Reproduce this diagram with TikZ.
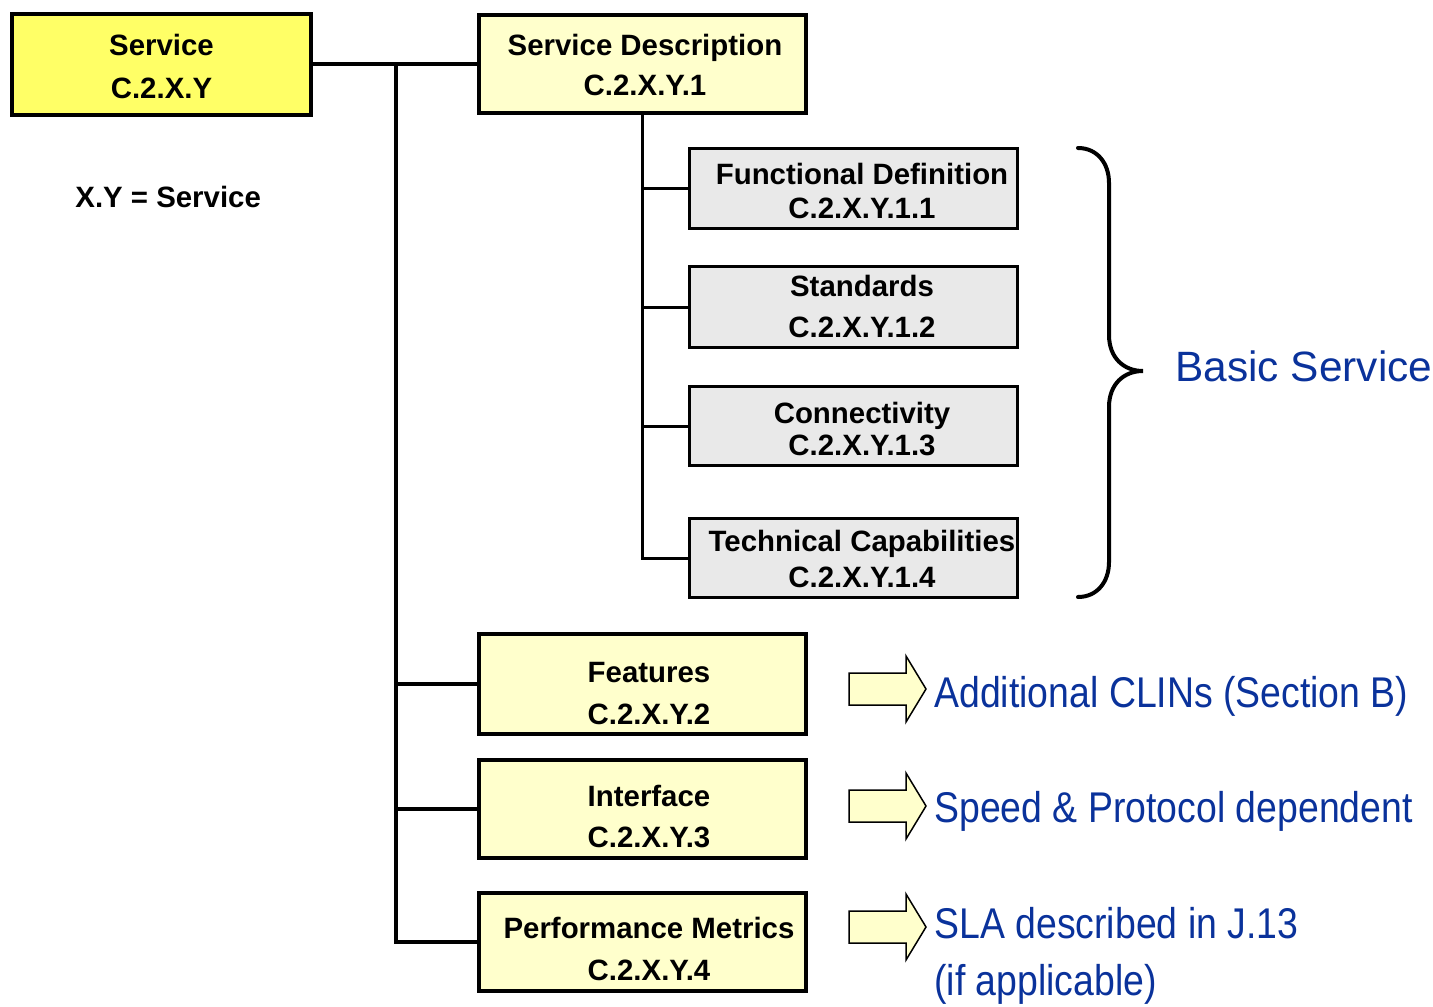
\documentclass[tikz,border=0pt]{standalone}
\usepackage{fontspec}
\setmainfont{Liberation Sans}
\newfontfamily\narrowblue[FakeStretch=0.87]{Liberation Sans}
\newlength\pxu \setlength\pxu{0.5pt}
\definecolor{brightyellow}{RGB}{255,255,102}
\definecolor{paleyellow}{RGB}{255,255,204}
\definecolor{lightgraybox}{RGB}{233,233,233}
\definecolor{textblue}{RGB}{10,50,155}
% #1 horizontal shift (px), #2 line 1, #3 line 2, #4 extra line gap, #5 top strut height
\newcommand\bxt[5]{\hspace*{#1\pxu}\begin{tabular}{@{}c@{}}\rule{0pt}{#5}#2\\[#4]#3\end{tabular}}
\tikzset{
  boxfont/.style={font=\fontsize{14.7pt}{17pt}\selectfont\bfseries},
  ybox/.style={draw, line width=4\pxu, fill=paleyellow, minimum width=327\pxu, minimum height=98\pxu, inner sep=0pt, boxfont},
  svcbox/.style={ybox, fill=brightyellow, minimum width=299\pxu, minimum height=101\pxu},
  gbox/.style={draw, line width=2.7\pxu, fill=lightgraybox, minimum width=328\pxu, minimum height=78\pxu, inner sep=0pt, boxfont},
  mainline/.style={line width=4\pxu},
  subline/.style={line width=3\pxu},
  bracest/.style={line width=4\pxu, line cap=round},
  arrowst/.style={draw, line width=1.5\pxu, fill=paleyellow, line join=miter},
  bluetext/.style={text=textblue, inner sep=0pt, anchor=base west},
  bignarrow/.style={bluetext, font=\narrowblue\fontsize{21.5pt}{26pt}\selectfont},
}
\newcommand\blkarrow[1]{%
  \draw[arrowst] (849,#1-16) -- (906,#1-16) -- (906,#1-33) -- (926,#1) -- (906,#1+33) -- (906,#1+16) -- (849,#1+16) -- cycle;}
\begin{document}
\begin{tikzpicture}[x=0.5pt, y=-0.5pt]
\useasboundingbox (0,0) rectangle (1433,1006);

% main boxes
\node[svcbox] (svc) at (161.5,64.5) {\bxt{0}{Service}{C.2.X.Y}{4pt}{17.6pt}};
\node[ybox] (sd) at (642.5,64) {\bxt{5}{Service Description}{C.2.X.Y.1}{3pt}{17.1pt}};
\node[ybox] (feat) at (642.5,684) {\bxt{13}{Features}{C.2.X.Y.2}{4pt}{24.1pt}};
\node[ybox] (intf) at (642.5,808.5) {\bxt{13}{Interface}{C.2.X.Y.3}{3.5pt}{23.1pt}};
\node[ybox] (perf) at (642.5,941.5) {\bxt{13}{Performance Metrics}{C.2.X.Y.4}{4pt}{22.6pt}};

% sub boxes
\node[gbox] (fd) at (853.5,188.5) {\bxt{17}{Functional Definition}{C.2.X.Y.1.1}{0pt}{17.6pt}};
\node[gbox] (std) at (853.5,307) {\bxt{17}{Standards}{C.2.X.Y.1.2}{3.5pt}{14.6pt}};
\node[gbox] (con) at (853.5,426) {\bxt{17}{Connectivity}{C.2.X.Y.1.3}{-1pt}{18.1pt}};
\node[gbox] (tec) at (853.5,558) {\bxt{17}{Technical Capabilities}{C.2.X.Y.1.4}{1pt}{16.1pt}};

\node[anchor=base west, inner sep=0pt, boxfont] (xy) at (75,207) {X.Y = Service};

% main connectors
\coordinate (t0) at (396,64.5);
\draw[mainline] (svc.east) -- (svc.east -| sd.west);
\draw[mainline] (t0) |- (perf.west);
\draw[mainline] (t0 |- feat.west) -- (feat.west);
\draw[mainline] (t0 |- intf.west) -- (intf.west);

% sub connectors
\draw[subline] (sd.south) |- (tec.west);
\draw[subline] (sd.south |- fd.west) -- (fd.west);
\draw[subline] (sd.south |- std.west) -- (std.west);
\draw[subline] (sd.south |- con.west) -- (con.west);

% brace
\draw[bracest] (1078,148) .. controls (1097,148) and (1109,163) .. (1109,183)
  -- (1109,335) .. controls (1109,358) and (1124,371) .. (1143,371)
  .. controls (1124,371) and (1109,384) .. (1109,407)
  -- (1109,562) .. controls (1109,582) and (1097,597) .. (1078,597);
\node[bluetext, font=\fontsize{21.2pt}{25pt}\selectfont] (basic) at (1175,381) {Basic Service};

% block arrows
\blkarrow{689}
\blkarrow{806}
\blkarrow{927}
\node[bignarrow] (clins) at (934,707) {Additional CLINs (Section B)};
\node[bignarrow] (speed) at (934,822) {Speed \& Protocol dependent};
\node[bignarrow] (sla) at (934,938) {SLA described in J.13};
\node[bignarrow] (ifap) at (934,995) {(if applicable)};
\end{tikzpicture}
\end{document}
